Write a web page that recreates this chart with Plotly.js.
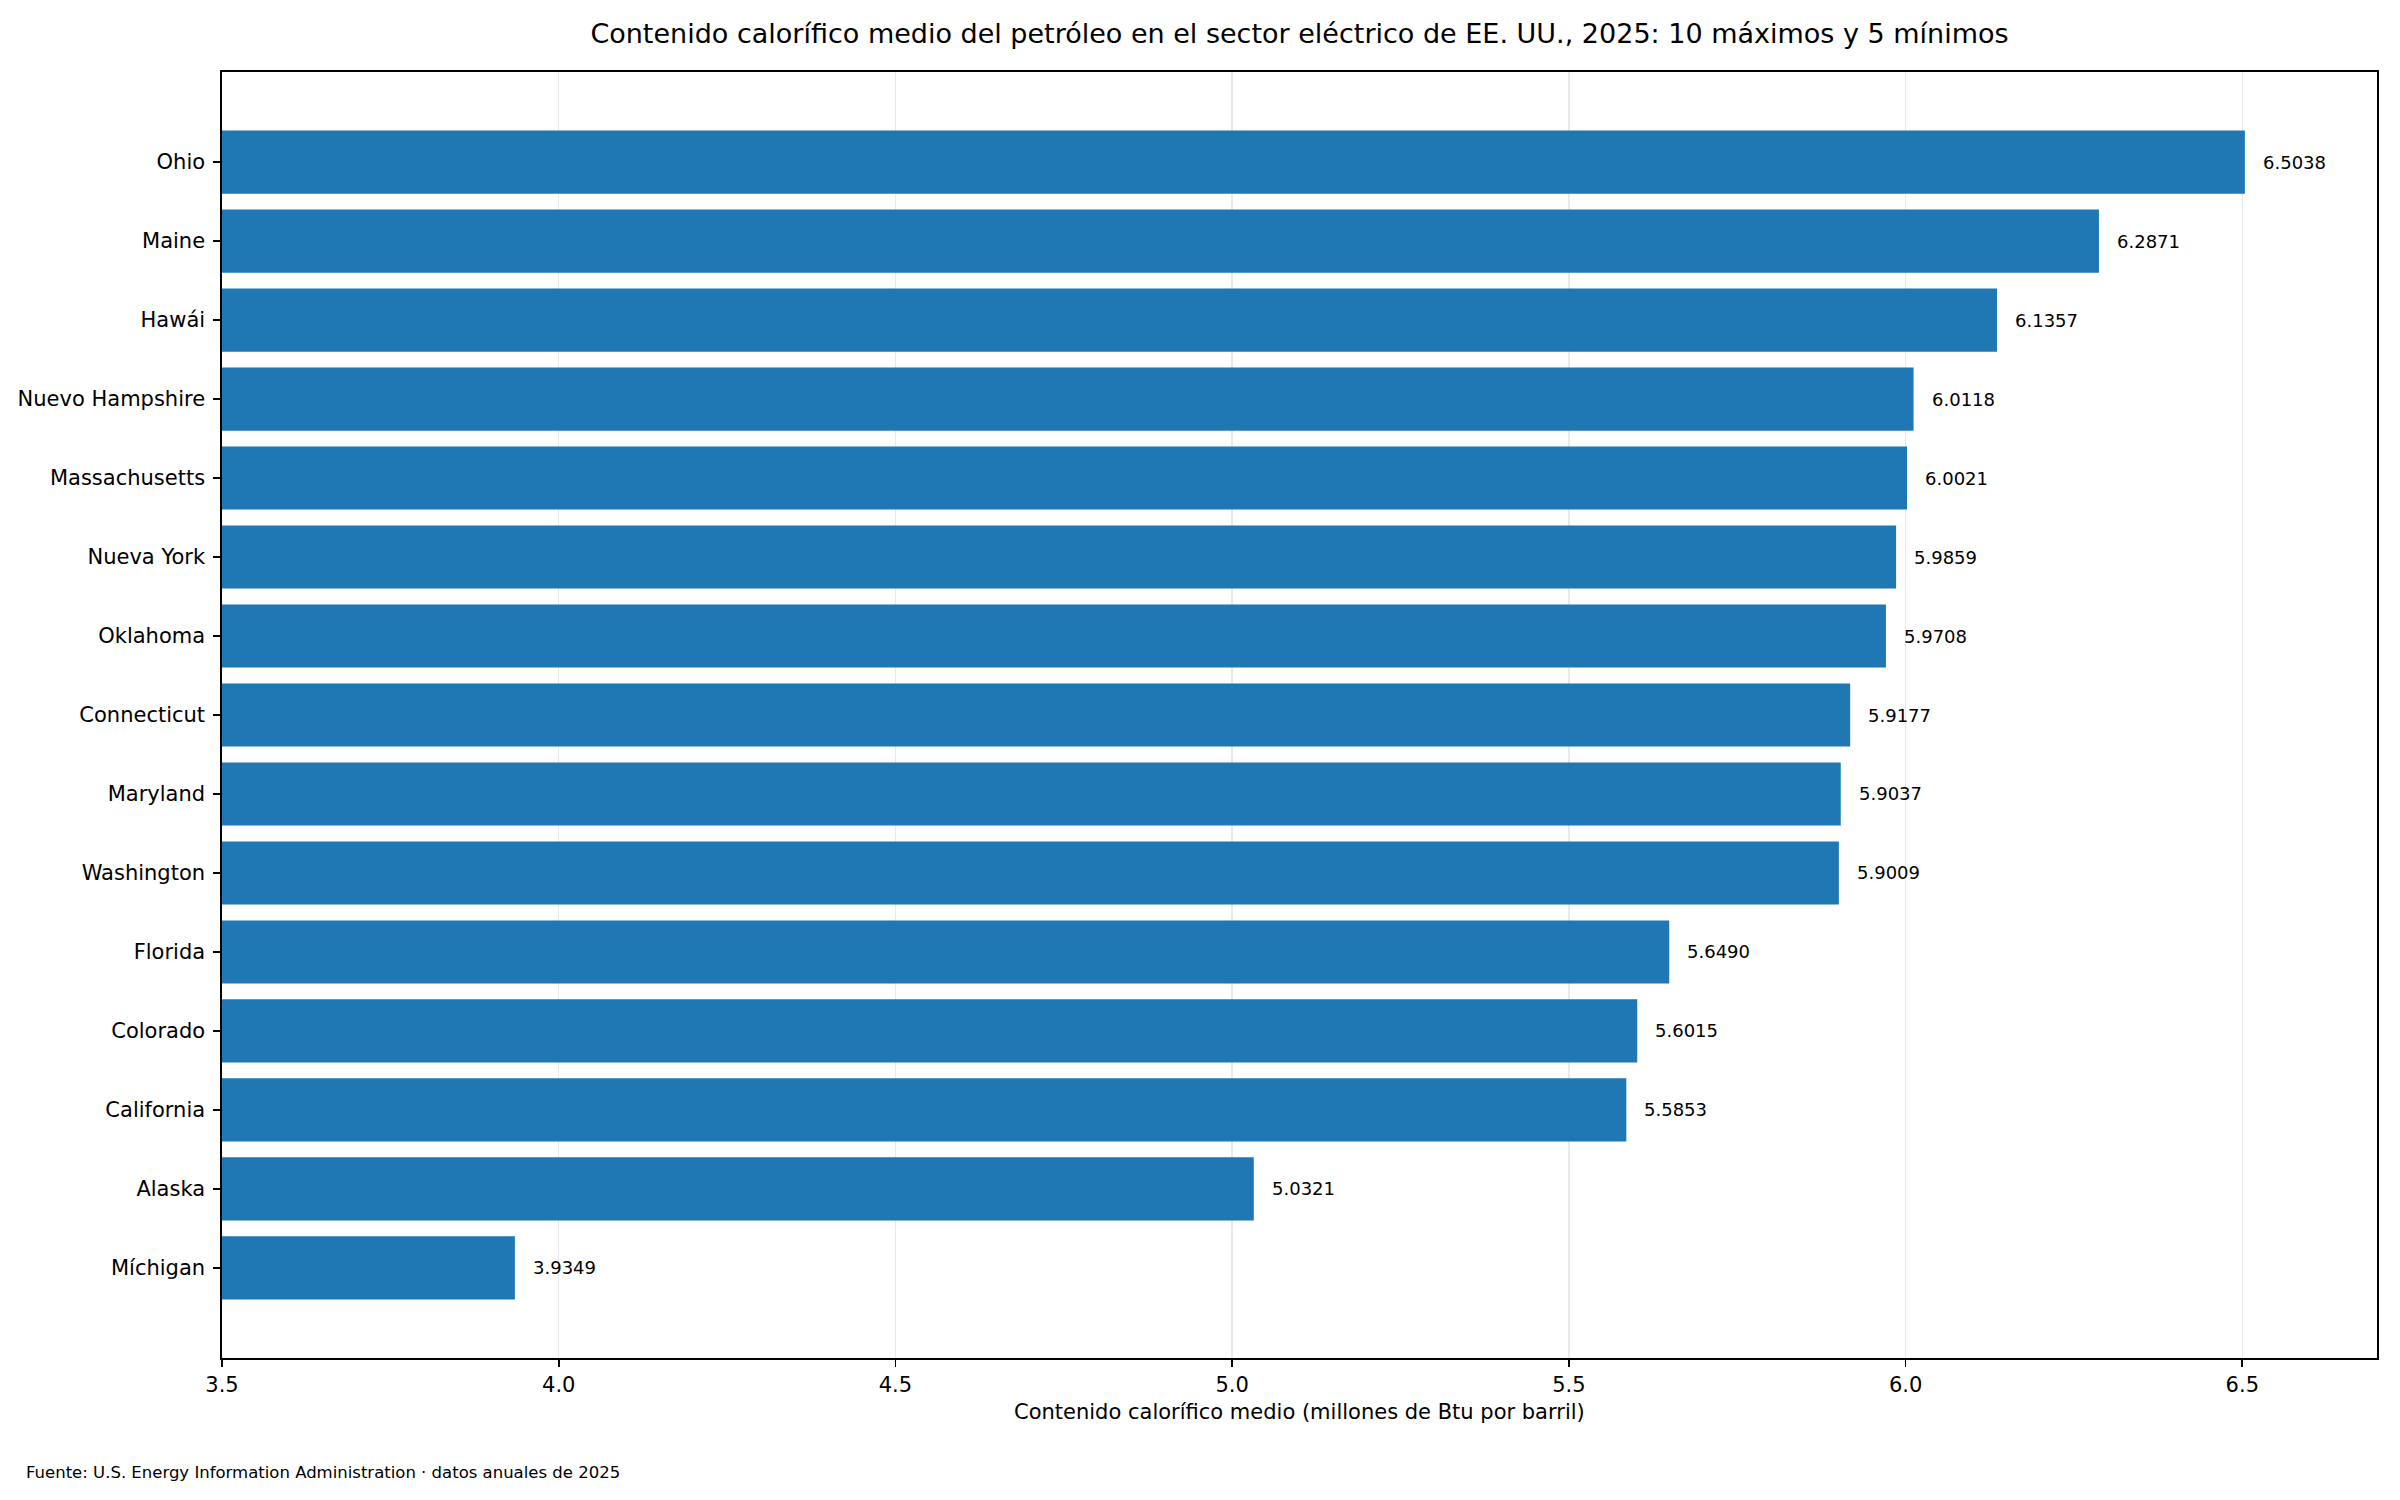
<!DOCTYPE html>
<html>
<head>
<meta charset="utf-8">
<script src="https://cdn.plot.ly/plotly-3.0.1.min.js"></script>
<style>html,body{margin:0;padding:0;background:#fff;}</style>
</head>
<body>
<div id="chart" style="width:2400px;height:1500px;"></div>
<script>
const states = ["Ohio","Maine","Hawái","Nuevo Hampshire","Massachusetts","Nueva York","Oklahoma","Connecticut","Maryland","Washington","Florida","Colorado","California","Alaska","Míchigan"];
const values = [6.5038,6.2871,6.1357,6.0118,6.0021,5.9859,5.9708,5.9177,5.9037,5.9009,5.6490,5.6015,5.5853,5.0321,3.9349];
const xTicks = [3.5,4.0,4.5,5.0,5.5,6.0,6.5];
const titleText = "Contenido calorífico medio del petróleo en el sector eléctrico de EE. UU., 2025: 10 máximos y 5 mínimos";
const xTitleText = "Contenido calorífico medio (millones de Btu por barril)";
const sourceText = "Fuente: U.S. Energy Information Administration · datos anuales de 2025";

const FONT = "DejaVu Sans, sans-serif";
const L = 222, R = 23, T = 72, B = 142, W = 2400, H = 1500;
const plotH = H - T - B;
const plotW = W - L - R;

const trace = {
  type: "bar",
  orientation: "h",
  x: values,
  y: states,
  width: 0.8,
  marker: {color: "#1f77b4", line: {width: 0}},
  hoverinfo: "x+y"
};

const annotations = values.map((v, i) => ({
  x: v, y: states[i], xref: "x", yref: "y",
  text: v.toFixed(4), showarrow: false,
  xanchor: "left", yanchor: "middle", xshift: 16,
  font: {family: FONT, size: 18, color: "#000"}
}));
annotations.push({
  xref: "paper", yref: "paper", x: 0.5, y: -(1412 - (H - B)) / plotH,
  xanchor: "center", yanchor: "middle", showarrow: false,
  text: xTitleText, font: {family: FONT, size: 21, color: "#000"}
});
annotations.push({
  xref: "paper", yref: "paper", x: -(L - 24) / plotW, y: -(1472 - (H - B)) / plotH,
  xanchor: "left", yanchor: "middle", showarrow: false,
  text: sourceText, font: {family: FONT, size: 16.5, color: "#000"}
});

const layout = {
  width: W, height: H,
  margin: {l: L, r: R, t: T, b: B, pad: 0},
  paper_bgcolor: "#fff", plot_bgcolor: "#fff",
  font: {family: FONT, color: "#000"},
  showlegend: false,
  title: {
    text: titleText, font: {family: FONT, size: 27, color: "#000"},
    x: (L + plotW / 2) / W, xref: "container", xanchor: "center",
    y: 1 - 34 / H, yref: "container", yanchor: "middle"
  },
  xaxis: {
    range: [3.5, 6.7], tickvals: xTicks, ticktext: xTicks.map(t => t.toFixed(1)),
    showgrid: true, gridcolor: "rgba(176,176,176,0.28)", gridwidth: 1.5,
    zeroline: false, showline: true, linecolor: "#000", linewidth: 1.7, mirror: true,
    ticks: "outside", ticklen: 7, tickwidth: 1.7, tickcolor: "#000",
    tickfont: {family: FONT, size: 21, color: "#000"},
    layer: "above traces", fixedrange: true
  },
  yaxis: {
    type: "category", range: [states.length - 1 + 1.14, -1.14],
    showgrid: false, zeroline: false, showline: true, linecolor: "#000", linewidth: 1.7, mirror: true,
    ticks: "outside", ticklen: 7, tickwidth: 1.7, tickcolor: "#000",
    tickfont: {family: FONT, size: 21, color: "#000"},
    ticklabelstandoff: 4,
    layer: "above traces", fixedrange: true
  },
  annotations: annotations,
  bargap: 0.2
};

Plotly.newPlot("chart", [trace], layout, {displayModeBar: false, staticPlot: true});
</script>
</body>
</html>
